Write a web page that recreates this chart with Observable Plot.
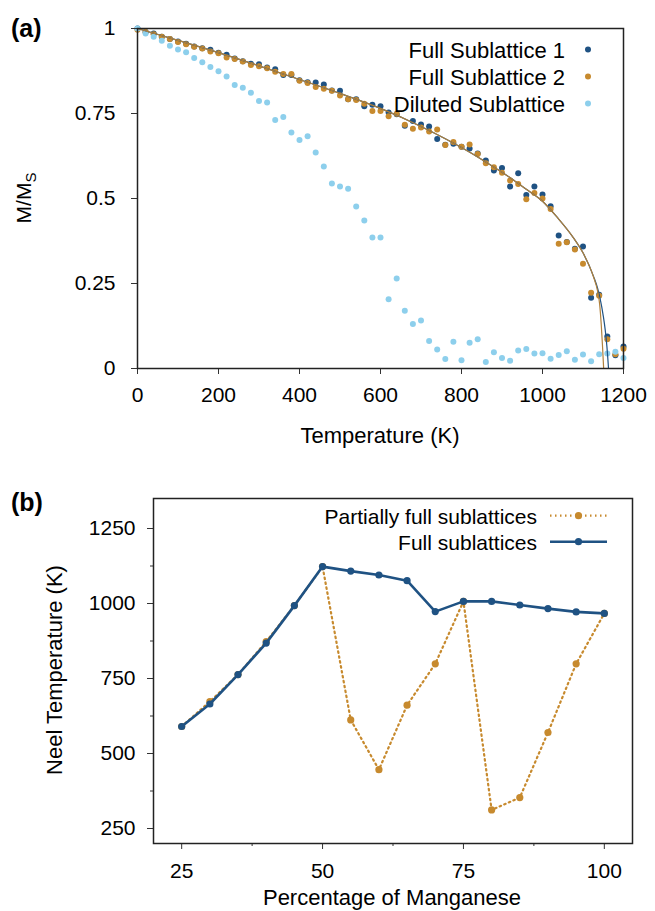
<!DOCTYPE html>
<html><head><meta charset="utf-8">
<script src="https://cdn.jsdelivr.net/npm/d3@7"></script>
<script src="https://cdn.jsdelivr.net/npm/@observablehq/plot@0.6"></script>
<style>
body{margin:0;background:#fff;}
#wrap{position:relative;width:655px;height:911px;overflow:hidden;}
.panel{position:absolute;left:0;}
</style></head><body>
<div id="wrap">
  <div id="pa" class="panel" style="top:0"></div>
  <div id="pb" class="panel" style="top:460px"></div>
</div>
<script>
// ---------- Panel (a) data ----------
const temps = [0,20,40,60,80,100,120,140,160,180,200,220,240,260,280,300,320,340,360,380,400,420,440,460,480,500,520,540,560,580,600,620,640,660,680,700,720,740,760,780,800,820,840,860,880,900,920,940,960,980,1000,1020,1040,1060,1080,1100,1120,1140,1160,1180,1200];
const sub1 = [1.0,0.99,0.985,0.976,0.969,0.962,0.955,0.947,0.942,0.9375,0.929,0.923,0.912,0.904,0.896,0.895,0.885,0.880,0.863,0.863,0.848,0.842,0.841,0.835,0.818,0.817,0.792,0.792,0.771,0.776,0.771,0.753,0.748,0.714,0.728,0.718,0.712,0.675,0.658,0.661,0.652,0.647,0.632,0.612,0.582,0.590,0.535,0.574,0.510,0.535,0.512,0.477,0.391,0.372,0.352,0.359,0.208,0.217,0.094,0.039,0.065];
const sub2 = [0.996,0.99,0.983,0.976,0.969,0.960,0.954,0.946,0.941,0.932,0.927,0.915,0.910,0.903,0.893,0.889,0.883,0.873,0.866,0.866,0.846,0.840,0.828,0.823,0.817,0.803,0.792,0.790,0.779,0.757,0.757,0.742,0.749,0.717,0.705,0.709,0.697,0.703,0.657,0.666,0.652,0.659,0.631,0.604,0.592,0.576,0.553,0.543,0.498,0.516,0.500,0.469,0.367,0.371,0.350,0.308,0.223,0.214,0.086,0.042,0.058];
const diluted = [1.0,0.985,0.976,0.964,0.949,0.938,0.930,0.913,0.901,0.887,0.874,0.859,0.834,0.826,0.811,0.787,0.782,0.731,0.740,0.694,0.672,0.683,0.635,0.594,0.544,0.535,0.529,0.4765,0.435,0.385,0.385,0.204,0.265,0.170,0.131,0.141,0.081,0.056,0.028,0.079,0.024,0.076,0.086,0.019,0.048,0.031,0.023,0.053,0.057,0.044,0.045,0.029,0.040,0.051,0.026,0.041,0.021,0.042,0.044,0.049,0.031];
// fitted curves
const fit2T = [0,100,200,300,400,500,600,700,760,800,850,900,930,960,1000,1036,1076,1101,1126,1136,1141,1145,1148,1151];
const fit2M = [1.0,0.965,0.929,0.890,0.850,0.809,0.765,0.712,0.676,0.650,0.615,0.577,0.553,0.527,0.492,0.445,0.385,0.338,0.269,0.228,0.190,0.130,0.070,0.0];
const fit1T = [0,100,200,300,400,500,600,700,760,800,850,900,930,960,1000,1036,1076,1101,1126,1136,1142,1150,1155,1159,1163];
const fit1M = [1.0,0.965,0.929,0.890,0.850,0.809,0.765,0.712,0.676,0.650,0.615,0.577,0.553,0.527,0.492,0.445,0.385,0.338,0.271,0.236,0.207,0.155,0.112,0.065,0.0];
const aXTicks = [0,200,400,600,800,1000,1200];
const aYTicks = [0,0.25,0.5,0.75,1];
const aLegend = ["Full Sublattice 1","Full Sublattice 2","Diluted Sublattice"];

// ---------- Panel (b) data ----------
const pct = [25,30,35,40,45,50,55,60,65,70,75,80,85,90,95,100];
const fullTn = [590,665,763,868,993,1123,1108,1095,1076,973,1007,1007,995,983,972,967];
const partialTn = [590,673,763,873,993,1123,612,446,661,799,1007,312,353,570,799,967];
const bXTicks = [25,50,75,100];
const bXMinor = [37.5,62.5,87.5];
const bYTicks = [250,500,750,1000,1250];
const bYMinor = [375,625,875,1125];
const bLegend = ["Partially full sublattices","Full sublattices"];

const FONT = '"Liberation Sans", Arial, Helvetica, sans-serif';
const cS1 = "#1f5283", cS2 = "#c78a2e", cDil = "#8dcfec", cFit2 = "#b0803b";
const fmt = d => String(d);

// ---------- Panel (a) ----------
const rowsA = temps.map((t,i)=>({t, s1: sub1[i], s2: sub2[i], d: diluted[i]}));
const fit1 = fit1T.map((t,i)=>({t, m: fit1M[i]}));
const fit2 = fit2T.map((t,i)=>({t, m: fit2M[i]}));

const A = Plot.plot({
  width: 655, height: 460,
  marginLeft: 137, marginRight: 32, marginTop: 28, marginBottom: 92,
  style: {fontFamily: FONT, fontSize: "21px", color: "#000", background: "transparent", overflow: "visible"},
  x: {domain: [0,1200]},
  y: {domain: [0,1]},
  marks: [
    Plot.dot(rowsA, {x: "t", y: "s1", r: 3, fill: cS1}),
    Plot.dot(rowsA, {x: "t", y: "s2", r: 3, fill: cS2}),
    Plot.dot(rowsA, {x: "t", y: "d", r: 3, fill: cDil}),
    Plot.line(fit1, {x: "t", y: "m", stroke: cS1, strokeWidth: 1.2, curve: "monotone-x"}),
    Plot.line(fit2, {x: "t", y: "m", stroke: cFit2, strokeWidth: 1.2, curve: "monotone-x"}),
    Plot.axisX({ticks: aXTicks, tickSize: 6, tickPadding: 13, label: null, tickFormat: fmt, stroke: "#333"}),
    Plot.axisY({ticks: aYTicks, tickSize: 6, tickPadding: 16, label: null, tickFormat: fmt, stroke: "#333"}),
    Plot.frame({stroke: "#222", strokeWidth: 1.5})
  ]
});
document.getElementById("pa").appendChild(A);

// ---------- Panel (b) ----------
const rowsB = pct.map((p,i)=>({p, full: fullTn[i], part: partialTn[i]}));
const B = Plot.plot({
  width: 655, height: 451,
  marginLeft: 153, marginRight: 23, marginTop: 38, marginBottom: 68,
  style: {fontFamily: FONT, fontSize: "21px", color: "#000", background: "transparent", overflow: "visible"},
  x: {domain: [20,105]},
  y: {domain: [200,1350]},
  marks: [
    Plot.line(rowsB, {x: "p", y: "part", stroke: cS2, strokeWidth: 2.2, strokeDasharray: "1.5,3.5"}),
    Plot.dot(rowsB, {x: "p", y: "part", r: 3.6, fill: cS2}),
    Plot.line(rowsB, {x: "p", y: "full", stroke: cS1, strokeWidth: 2.6}),
    Plot.dot(rowsB, {x: "p", y: "full", r: 3.6, fill: cS1}),
    Plot.axisX({ticks: bXTicks, tickSize: 6, tickPadding: 14, label: null, tickFormat: fmt, stroke: "#333"}),
    Plot.axisX({ticks: bXMinor, tickSize: 3, label: null, tickFormat: () => "", stroke: "#333"}),
    Plot.axisY({ticks: bYTicks, tickSize: 6, tickPadding: 12, label: null, tickFormat: fmt, stroke: "#333"}),
    Plot.axisY({ticks: bYMinor, tickSize: 3, label: null, tickFormat: () => "", stroke: "#333"}),
    Plot.frame({stroke: "#222", strokeWidth: 1.5})
  ]
});
document.getElementById("pb").appendChild(B);

// ---------- Labels & legends ----------
function addText(svg, x, y, txt, opts = {}) {
  const t = d3.select(svg).append("text")
    .attr("x", x).attr("y", y)
    .attr("font-family", FONT)
    .attr("font-size", opts.size || 22)
    .attr("font-weight", opts.weight || "normal")
    .attr("text-anchor", opts.anchor || "start")
    .attr("fill", "#000")
    .text(txt);
  if (opts.transform) t.attr("transform", opts.transform);
  return t;
}
// panel (a)
addText(A, 11, 37, "(a)", {size: 25, weight: "bold"});
addText(A, 380, 443, "Temperature (K)", {anchor: "middle"});
const yl = d3.select(A).append("text")
  .attr("transform", "translate(31,198) rotate(-90)")
  .attr("font-family", FONT).attr("font-size", 21)
  .attr("text-anchor", "middle").attr("fill", "#000");
yl.append("tspan").text("M/M");
yl.append("tspan").attr("font-size", 15).attr("dy", 5).text("S");
const aCols = [cS1, cS2, cDil];
aLegend.forEach((name, i) => {
  const cy = 49.5 + i * 27;
  addText(A, 565, cy + 8, name, {anchor: "end"});
  d3.select(A).append("circle").attr("cx", 588).attr("cy", cy).attr("r", 3).attr("fill", aCols[i]);
});
// panel (b)
addText(B, 11, 51, "(b)", {size: 25, weight: "bold"});
addText(B, 392, 445, "Percentage of Manganese", {anchor: "middle"});
addText(B, 0, 0, "Neel Temperature (K)", {anchor: "middle", transform: "translate(62,210) rotate(-90)"});
bLegend.forEach((name, i) => {
  const cy = 55.7 + i * 26;
  addText(B, 537, cy + 8, name, {anchor: "end", size: 21});
  const g = d3.select(B);
  const ln = g.append("line").attr("x1", 550).attr("x2", 607).attr("y1", cy).attr("y2", cy)
    .attr("stroke", i === 0 ? cS2 : cS1).attr("stroke-width", i === 0 ? 2.2 : 2.6);
  if (i === 0) ln.attr("stroke-dasharray", "1.5,3.5");
  g.append("circle").attr("cx", 578.5).attr("cy", cy).attr("r", 3.6).attr("fill", i === 0 ? cS2 : cS1);
});
</script>
</body></html>
